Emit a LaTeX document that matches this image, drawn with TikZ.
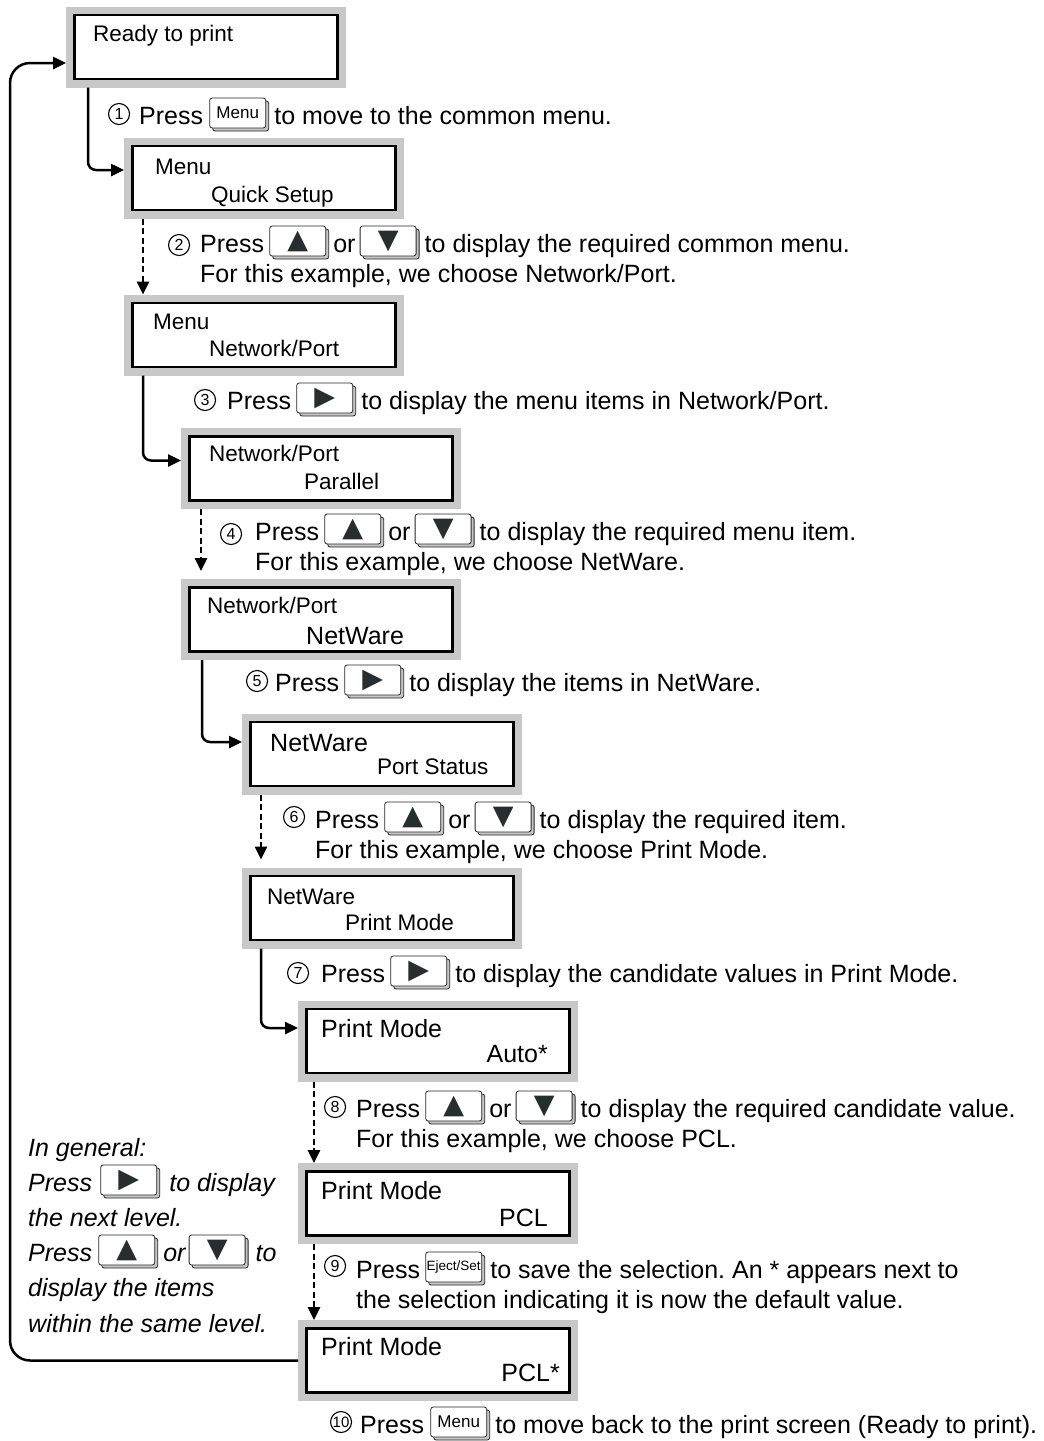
\documentclass[tikz,border=0pt]{standalone}
\usepackage{fontspec}
\setmainfont{Liberation Sans}
\newfontfamily\symfont{DejaVu Sans}
\usepackage{xcolor}
\usepackage{tikz}
\usetikzlibrary{positioning, arrows.meta, shadows}
\definecolor{framegray}{RGB}{200,200,200}
\definecolor{keyink}{RGB}{40,46,48}
\frenchspacing

\begin{document}
\begin{tikzpicture}[
    x=1pt, y=-1pt,
    every node/.style={inner sep=0pt},
    lcd/.style={draw, line width=2.6pt, fill=white,
      minimum width=263pt, minimum height=64pt, outer sep=8.5pt,
      preaction={draw=framegray, line width=17pt}},
    lcdsmall/.style={font=\fontsize{22.5}{27}\selectfont, anchor=base west},
    lcdlarge/.style={font=\fontsize{25}{30}\selectfont, anchor=base west},
    steptext/.style={font=\fontsize{25}{30}\selectfont, text height=22pt, text depth=0pt, anchor=base west},
    notetext/.style={steptext, font=\fontsize{25}{30}\selectfont\itshape},
    circnum/.style={circle, draw, line width=1.1pt, minimum size=21pt, anchor=west,
      font=\fontsize{16}{16}\selectfont},
    keycap/.style={draw=black!85, line width=0.8pt, fill=white, rounded corners=2.5pt,
      minimum width=56pt, minimum height=30pt,
      general shadow={draw=black!85, fill=gray!45, shadow xshift=3pt, shadow yshift=-3pt}},
    keyglyph/.style={keycap, font=\symfont\fontsize{27}{27}\selectfont, text=keyink},
    keylabel/.style={keycap, font=\fontsize{17}{17}\selectfont},
    flow/.style={line width=2.5pt, -{Triangle[length=13pt, width=12pt]}, rounded corners=8pt},
    dashflow/.style={flow, dash pattern=on 6pt off 3.5pt},
  ]
    % 背景与边界
    \path[fill=white] (0,0) rectangle (1044,1441);
    \useasboundingbox (0,0) rectangle (1044,1441);

    % 显示屏
    \node[lcd] (ready)  at (206,47)     {};
    \node[lcd] (menuq)  at (264,178)    {};
    \node[lcd] (menun)  at (264,335)    {};
    \node[lcd] (netpar) at (321,468.5)  {};
    \node[lcd] (netnw)  at (321,619.5)  {};
    \node[lcd] (nwport) at (382,754)    {};
    \node[lcd] (nwmode) at (382,908)    {};
    \node[lcd] (pmauto) at (438,1041)   {};
    \node[lcd] (pmpcl)  at (438,1203.5) {};
    \node[lcd] (pmdef)  at (438,1360.5) {};

    % 显示屏中的文字
    \node[lcdsmall] (readya)  at (93,41)   {Ready to print};
    \node[lcdsmall] (menuqa)  at (155,174) {Menu};
    \node[lcdsmall] (menuqb)  at (211,202) {Quick Setup};
    \node[lcdsmall] (menuna)  at (153,329) {Menu};
    \node[lcdsmall] (menunb)  at (209,356) {Network/Port};
    \node[lcdsmall] (netpara) at (209,461) {Network/Port};
    \node[lcdsmall] (netparb) at (304,489) {Parallel};
    \node[lcdsmall] (netnwa)  at (207,613) {Network/Port};
    \node[lcdlarge] (netnwb)  at (306,644) {NetWare};
    \node[lcdlarge] (nwporta) at (270,751) {NetWare};
    \node[lcdsmall] (nwportb) at (377,774) {Port Status};
    \node[lcdsmall] (nwmodea) at (267,904) {NetWare};
    \node[lcdsmall] (nwmodeb) at (345,930) {Print Mode};
    \node[lcdlarge] (pmautoa) at (321,1037) {Print Mode};
    \node[lcdlarge, anchor=base east] (pmautob) at (548,1062) {Auto*};
    \node[lcdlarge] (pmpcla)  at (321,1199) {Print Mode};
    \node[lcdlarge, anchor=base east] (pmpclb)  at (548,1226) {PCL};
    \node[lcdlarge] (pmdefa)  at (321,1355) {Print Mode};
    \node[lcdlarge, anchor=base east] (pmdefb)  at (560,1381) {PCL*};

    % 步骤 1
    \node[circnum]  (n1) at (108,114) {1};
    \node[steptext] (p1) at (139,124) {Press};
    \node[keylabel, right=6pt of p1] (k1) {Menu};
    \node[steptext, right=8pt of k1] (t1) {to move to the common menu.};

    % 步骤 2
    \node[circnum]  (n2) at (168,245) {2};
    \node[steptext] (p2) at (200,252) {Press};
    \node[keyglyph, right=5pt of p2] (k2a) {▲};
    \node[steptext, right=7pt of k2a] (o2) {or};
    \node[keyglyph, right=4pt of o2] (k2b) {▼};
    \node[steptext, right=8pt of k2b] (t2) {to display the required common menu.};
    \node[steptext] (u2) at (200,282) {For this example, we choose Network/Port.};

    % 步骤 3
    \node[circnum]  (n3) at (194,400) {3};
    \node[steptext] (p3) at (227,409) {Press};
    \node[keyglyph, right=5pt of p3] (k3) {▶};
    \node[steptext, right=8pt of k3] (t3) {to display the menu items in Network/Port.};

    % 步骤 4
    \node[circnum]  (n4) at (220,534) {4};
    \node[steptext] (p4) at (255,540) {Press};
    \node[keyglyph, right=5pt of p4] (k4a) {▲};
    \node[steptext, right=7pt of k4a] (o4) {or};
    \node[keyglyph, right=4pt of o4] (k4b) {▼};
    \node[steptext, right=8pt of k4b] (t4) {to display the required menu item.};
    \node[steptext] (u4) at (255,570) {For this example, we choose NetWare.};

    % 步骤 5
    \node[circnum]  (n5) at (246,681) {5};
    \node[steptext] (p5) at (275,691) {Press};
    \node[keyglyph, right=5pt of p5] (k5) {▶};
    \node[steptext, right=8pt of k5] (t5) {to display the items in NetWare.};

    % 步骤 6
    \node[circnum]  (n6) at (283,817) {6};
    \node[steptext] (p6) at (315,828) {Press};
    \node[keyglyph, right=5pt of p6] (k6a) {▲};
    \node[steptext, right=7pt of k6a] (o6) {or};
    \node[keyglyph, right=4pt of o6] (k6b) {▼};
    \node[steptext, right=8pt of k6b] (t6) {to display the required item.};
    \node[steptext] (u6) at (315,858) {For this example, we choose Print Mode.};

    % 步骤 7
    \node[circnum]  (n7) at (287,973) {7};
    \node[steptext] (p7) at (321,982) {Press};
    \node[keyglyph, right=5pt of p7] (k7) {▶};
    \node[steptext, right=8pt of k7] (t7) {to display the candidate values in Print Mode.};

    % 步骤 8
    \node[circnum]  (n8) at (324,1107) {8};
    \node[steptext] (p8) at (356,1117) {Press};
    \node[keyglyph, right=5pt of p8] (k8a) {▲};
    \node[steptext, right=7pt of k8a] (o8) {or};
    \node[keyglyph, right=4pt of o8] (k8b) {▼};
    \node[steptext, right=8pt of k8b] (t8) {to display the required candidate value.};
    \node[steptext] (u8) at (356,1147) {For this example, we choose PCL.};

    % 步骤 9
    \node[circnum]  (n9) at (324,1266) {9};
    \node[steptext] (p9) at (356,1278) {Press};
    \node[keycap, font=\fontsize{13.5}{14}\selectfont, right=5pt of p9] (k9) {Eject/Set};
    \node[steptext, right=8pt of k9] (t9) {to save the selection. An * appears next to};
    \node[steptext] (u9) at (356,1308) {the selection indicating it is now the default value.};

    % 步骤 10
    \node[circnum, font=\fontsize{15}{15}\selectfont] (n10) at (330,1422) {10};
    \node[steptext] (p10) at (360,1433) {Press};
    \node[keylabel, right=6pt of p10] (k10) {Menu};
    \node[steptext, right=8pt of k10] (t10) {to move back to the print screen (Ready to print).};

    % 左下角说明
    \node[notetext] (g0) at (28,1156) {In general:};
    \node[notetext] (g1) at (28,1191) {Press};
    \node[keyglyph, right=8pt of g1] (gk1) {▶};
    \node[notetext, right=12pt of gk1] (g1b) {to display};
    \node[notetext] (g2) at (28,1226) {the next level.};
    \node[notetext] (g3) at (28,1261) {Press};
    \node[keyglyph, right=6pt of g3] (gk2) {▲};
    \node[notetext, right=8pt of gk2] (g3b) {or};
    \node[keyglyph, right=3pt of g3b] (gk3) {▼};
    \node[notetext, right=10pt of gk3] (g3c) {to};
    \node[notetext] (g4) at (28,1296) {display the items};
    \node[notetext] (g5) at (28,1332) {within the same level.};

    % 进入下一层（实线）与同层切换（虚线）
    \coordinate (a1) at ([xshift=22pt]ready.south west);
    \draw[flow] (a1) |- ([yshift=8pt]menuq.west);
    \coordinate (a2) at ([xshift=19pt]menuq.south west);
    \draw[dashflow] (a2) -- (a2 |- menun.north);
    \coordinate (a3) at ([xshift=19pt]menun.south west);
    \draw[flow] (a3) |- ([yshift=8pt]netpar.west);
    \coordinate (a4) at ([xshift=20pt]netpar.south west);
    \draw[dashflow, shorten >=8pt] (a4) -- (a4 |- netnw.north);
    \coordinate (a5) at ([xshift=21pt]netnw.south west);
    \draw[flow] (a5) |- ([yshift=12pt]nwport.west);
    \coordinate (a6) at ([xshift=19pt]nwport.south west);
    \draw[dashflow, shorten >=8pt] (a6) -- (a6 |- nwmode.north);
    \coordinate (a7) at ([xshift=19pt]nwmode.south west);
    \draw[flow] (a7) |- ([yshift=13pt]pmauto.west);
    \coordinate (a8) at ([xshift=16pt]pmauto.south west);
    \draw[dashflow] (a8) -- (a8 |- pmpcl.north);
    \coordinate (a9) at ([xshift=16pt]pmpcl.south west);
    \draw[dashflow] (a9) -- (a9 |- pmdef.north);

    % 返回待机画面
    \coordinate (back) at (10,700);
    \draw[flow, rounded corners=20pt] (pmdef.west) -| (back) |- ([yshift=-16pt]ready.west);
  \end{tikzpicture}
\end{document}
